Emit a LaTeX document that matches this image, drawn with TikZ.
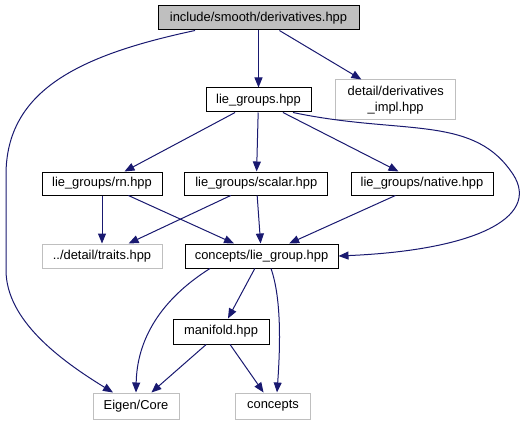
\documentclass[tikz,border=0pt]{standalone}
\usepackage{fontspec}
\setmainfont{Liberation Sans}
\usetikzlibrary{arrows.meta}
\definecolor{edgecol}{HTML}{191970}
\definecolor{lgray}{HTML}{BFBFBF}
\begin{document}
\begin{tikzpicture}[x=1pt,y=-1pt,
  box/.style={draw=black,line width=1pt,fill=white,inner sep=0pt,
    font=\fontsize{12.9}{16}\selectfont,minimum height=24pt,align=center},
  gbox/.style={box,draw=lgray},
  dep/.style={draw=edgecol,line width=1pt,-{Triangle[length=10pt,width=8pt]}}]
\useasboundingbox (0,0) rectangle (527,425);
\node[box,fill=lgray,minimum width=201pt] (root) at (258.5,18) {include/smooth/derivatives.hpp};
\node[box,minimum width=105pt] (lg) at (258.5,100) {lie\_groups.hpp};
\node[gbox,minimum width=120pt,minimum height=40pt] (impl) at (395.7,100) {detail/derivatives\\\_impl.hpp};
\node[box,minimum width=120pt,minimum height=23pt] (rn) at (102,183.5) {lie\_groups/rn.hpp};
\node[box,minimum width=143pt,minimum height=23pt] (sc) at (256.3,183.5) {lie\_groups/scalar.hpp};
\node[box,minimum width=142pt,minimum height=23pt] (na) at (422,183.5) {lie\_groups/native.hpp};
\node[gbox,minimum width=120pt] (tr) at (102,256) {../detail/traits.hpp};
\node[box,minimum width=153pt] (lgp) at (261.5,256) {concepts/lie\_group.hpp};
\node[box,minimum width=96pt,minimum height=25pt] (mf) at (221,331.5) {manifold.hpp};
\node[gbox,minimum width=86pt,minimum height=26pt] (ei) at (136,406) {Eigen/Core};
\node[gbox,minimum width=75pt,minimum height=26pt] (co) at (273,406) {concepts};

\draw[dep] (root) -- (lg);
\draw[dep] (root) -- (impl);
\draw[dep] ([xshift=-63.5pt]root.south) .. controls (80,55) and (6,90) .. (6,175)
  -- (6,270) .. controls (6,320) and (60,360) .. ([xshift=-23pt]ei.north);
\draw[dep] (lg) -- (rn);
\draw[dep] (lg) -- (sc);
\draw[dep] (lg) -- (na);
\draw[dep] ([xshift=34.5pt]lg.south) .. controls (400,135) and (470,115) .. (510,170)
  .. controls (545,215) and (480,250) .. (lgp.east);
\draw[dep] (rn) -- (tr);
\draw[dep] (rn) -- (lgp);
\draw[dep] (sc) -- (tr);
\draw[dep] (sc) -- (lgp);
\draw[dep] (na) -- (lgp);
\draw[dep] (lgp) -- (mf);
\draw[dep] ([xshift=-51.5pt]lgp.south) .. controls (160,300) and (137,340) .. (ei.north);
\draw[dep] ([xshift=9.5pt]lgp.south) .. controls (282,300) and (280,350) .. ([xshift=4pt]co.north);
\draw[dep] (mf) -- (ei);
\draw[dep] (mf) -- (co);
\end{tikzpicture}
\end{document}
